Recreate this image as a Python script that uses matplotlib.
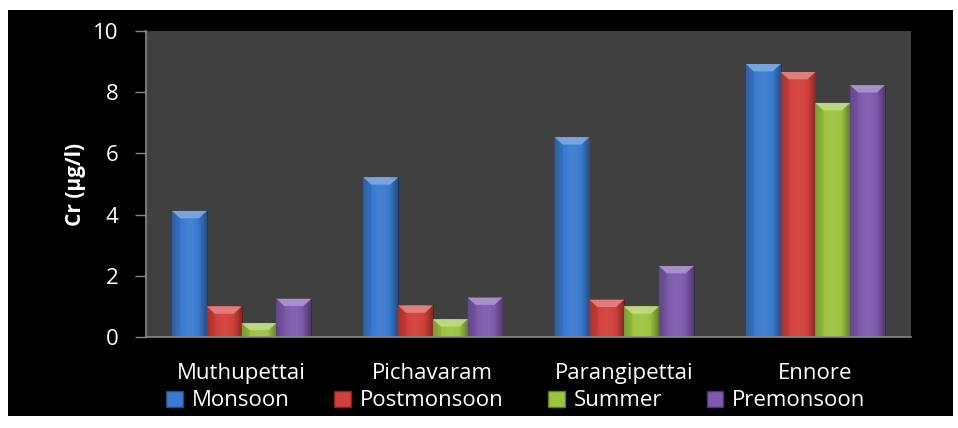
import matplotlib.pyplot as plt
import numpy as np
from matplotlib.colors import LinearSegmentedColormap, to_rgb
from matplotlib.patches import Rectangle, Polygon, Patch

# Данные
sites = ['Muthupettai', 'Pichavaram', 'Parangipettai', 'Ennore']
seasons = ['Monsoon', 'Postmonsoon', 'Summer', 'Premonsoon']
monsoon = [4.12, 5.22, 6.53, 8.92]
postmonsoon = [1.0, 1.03, 1.22, 8.66]
summer = [0.45, 0.58, 1.0, 7.65]
premonsoon = [1.25, 1.29, 2.32, 8.23]
colors = ['#3a7bd0', '#d2403c', '#9cc540', '#7e5aae']

plt.rcParams['font.family'] = ['Open Sans', 'DejaVu Sans']

fig = plt.figure(figsize=(9.58, 4.28), dpi=100)
fig.patch.set_facecolor('white')
# чёрный фон картинки
fig.patches.append(Rectangle((8 / 958, 1 - 416 / 428), 945 / 958, 406 / 428,
                             transform=fig.transFigure, facecolor='black',
                             edgecolor='none', zorder=-10))

ax = fig.add_axes([146 / 958, 1 - 337 / 428, 765 / 958, 306 / 428])
ax.set_facecolor('#404040')


def mix(c, other, t):
    c = np.array(to_rgb(c))
    o = np.array(to_rgb(other))
    return tuple(c * (1 - t) + o * t)


def bevel_bar(x, w, h, color):
    # основной прямоугольник с горизонтальным градиентом
    rect = Rectangle((x, 0), w, h, facecolor=color, edgecolor=mix(color, 'black', 0.55),
                     linewidth=0.7, zorder=2)
    ax.add_patch(rect)
    cmap = LinearSegmentedColormap.from_list('b', [mix(color, 'black', 0.3), color,
                                                   mix(color, 'white', 0.06), color,
                                                   mix(color, 'black', 0.35)])
    grad = np.linspace(0, 1, 64).reshape(1, -1)
    im = ax.imshow(grad, extent=(x, x + w, 0, h), cmap=cmap, aspect='auto', zorder=2.1)
    im.set_clip_path(rect)
    # фаска сверху
    b = w * 0.23
    bh = min(0.24, h / 2)
    top = Polygon([(x, h), (x + w, h), (x + w - b, h - bh), (x + b, h - bh)],
                  closed=True, facecolor=mix(color, 'white', 0.32), edgecolor='none', zorder=2.2)
    ax.add_patch(top)
    left = Polygon([(x, h), (x + b, h - bh), (x + b, bh * 0.3), (x, 0)],
                   closed=True, facecolor=mix(color, 'black', 0.12), edgecolor='none',
                   alpha=0.5, zorder=2.15)
    ax.add_patch(left)


series = [monsoon, postmonsoon, summer, premonsoon]
w = 1 / 5.5
xs = np.arange(len(sites))
for i, (vals, c) in enumerate(zip(series, colors)):
    for j, v in enumerate(vals):
        bevel_bar(xs[j] - 2 * w + i * w, w, v, c)

ax.set_xlim(-0.5, 3.5)
ax.set_ylim(0, 10)
ax.set_yticks([0, 2, 4, 6, 8, 10])
ax.set_xticks(xs)
ax.set_xticklabels(sites)
ax.tick_params(axis='x', length=0, pad=19, colors='white', labelsize=16)
ax.tick_params(axis='y', length=8, width=1, color='#888888', pad=12, labelcolor='white', labelsize=16)
for s in ['top', 'right']:
    ax.spines[s].set_visible(False)
for s in ['left', 'bottom']:
    ax.spines[s].set_color('#888888')
    ax.spines[s].set_linewidth(1.2)
ax.set_ylabel('Cr (µg/l)', color='white', fontsize=15, fontweight='bold', labelpad=5)

handles = [Patch(facecolor=c, edgecolor=mix(c, 'black', 0.4)) for c in colors]
leg = fig.legend(handles, seasons, loc='center', bbox_to_anchor=(516 / 958, 1 - 401 / 428),
                 ncol=4, frameon=False, fontsize=16, handlelength=0.75, handleheight=0.75,
                 handletextpad=0.4, columnspacing=2.0, labelcolor='white')

fig.savefig('out.png', dpi=100, facecolor=fig.get_facecolor())
